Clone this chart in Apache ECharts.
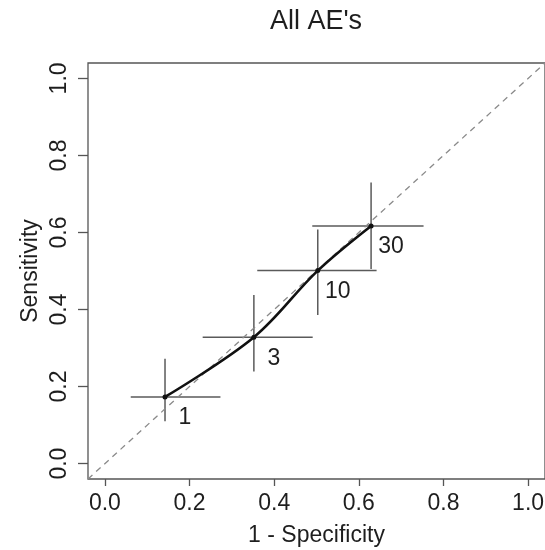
<!DOCTYPE html>
<html>
<head>
<meta charset="utf-8">
<script src="https://cdn.jsdelivr.net/npm/echarts@6/dist/echarts.min.js"></script>
<style>
html,body{margin:0;padding:0;background:#fff;}
#chart{width:545px;height:550px;}
</style>
</head>
<body>
<div id="chart"></div>
<script>
// ---- data ----
var thresholds = ['1', '3', '10', '30'];
var fpr    = [0.142, 0.352, 0.503, 0.629];   // 1 - Specificity
var sens   = [0.173, 0.328, 0.501, 0.617];   // Sensitivity
var fprLo  = [0.061, 0.231, 0.360, 0.490];
var fprHi  = [0.273, 0.491, 0.642, 0.753];
var sensLo = [0.110, 0.239, 0.386, 0.505];
var sensHi = [0.272, 0.438, 0.608, 0.730];
var tickValues = [0, 0.2, 0.4, 0.6, 0.8, 1.0];
var diagonal = [[-0.04, -0.04], [1.04, 1.04]];

var FONT = '"Liberation Sans", Arial, sans-serif';
var TEXT = '#1e1e1e';
var LINE = '#555';

var mainData = fpr.map(function (x, i) { return [x, sens[i], thresholds[i]]; });
var barData = fpr.map(function (x, i) { return [x, sens[i], fprLo[i], fprHi[i], sensLo[i], sensHi[i]]; });

var chart = echarts.init(document.getElementById('chart'), null, {renderer: 'canvas'});
var axisCommon = {
  type: 'value',
  min: -0.04,
  max: 1.04,
  splitLine: {show: false},
  axisLine: {show: false, onZero: false},
  axisTick: {show: true, inside: false, customValues: tickValues, lineStyle: {color: LINE, width: 1.3}},
  axisLabel: {customValues: tickValues, color: TEXT, fontFamily: FONT, fontSize: 23,
    formatter: function (v) { return v.toFixed(1); }},
  nameLocation: 'middle',
  nameMoveOverlap: false,
  nameTextStyle: {color: TEXT, fontFamily: FONT, fontSize: 23}
};

chart.setOption({
  animation: false,
  backgroundColor: '#fff',
  grid: {left: 88, right: 0, top: 63, height: 416, show: true, borderColor: LINE, borderWidth: 1.3,
    backgroundColor: 'transparent', containLabel: false, outerBoundsMode: 'none'},
  graphic: [{
    type: 'text', x: 316, y: 22,
    style: {text: "All AE's", fill: TEXT, font: '27px ' + FONT, textAlign: 'center', textVerticalAlign: 'middle'}
  }],
  xAxis: Object.assign({}, axisCommon, {
    name: '1 - Specificity', nameGap: 45,
    axisTick: Object.assign({}, axisCommon.axisTick, {length: 7}),
    axisLabel: Object.assign({}, axisCommon.axisLabel, {margin: 13})
  }),
  yAxis: Object.assign({}, axisCommon, {
    name: 'Sensitivity', nameGap: 46,
    axisTick: Object.assign({}, axisCommon.axisTick, {length: 10}),
    axisLabel: Object.assign({}, axisCommon.axisLabel, {rotate: 90, margin: 17})
  }),
  series: [
    {
      type: 'line', data: diagonal, symbol: 'none', silent: true, clip: true,
      lineStyle: {color: '#8a8a8a', width: 1.3, type: [6, 5]}
    },
    {
      type: 'custom', data: barData, silent: true, clip: true,
      renderItem: function (params, api) {
        var y = api.value(1), x = api.value(0);
        var h0 = api.coord([api.value(2), y]), h1 = api.coord([api.value(3), y]);
        var v0 = api.coord([x, api.value(4)]), v1 = api.coord([x, api.value(5)]);
        var st = {stroke: '#5a5a5a', lineWidth: 1.5};
        return {type: 'group', children: [
          {type: 'line', shape: {x1: h0[0], y1: h0[1], x2: h1[0], y2: h1[1]}, style: st},
          {type: 'line', shape: {x1: v0[0], y1: v0[1], x2: v1[0], y2: v1[1]}, style: st}
        ]};
      }
    },
    {
      type: 'line', data: mainData, smooth: 0.35,
      symbol: 'circle', symbolSize: 5,
      itemStyle: {color: '#111'},
      lineStyle: {color: '#111', width: 2.6},
      label: {show: true, position: 'inside', offset: [20, 21], color: TEXT, fontFamily: FONT, fontSize: 23,
        formatter: function (p) { return p.value[2]; }}
    }
  ]
});
</script>
</body>
</html>
